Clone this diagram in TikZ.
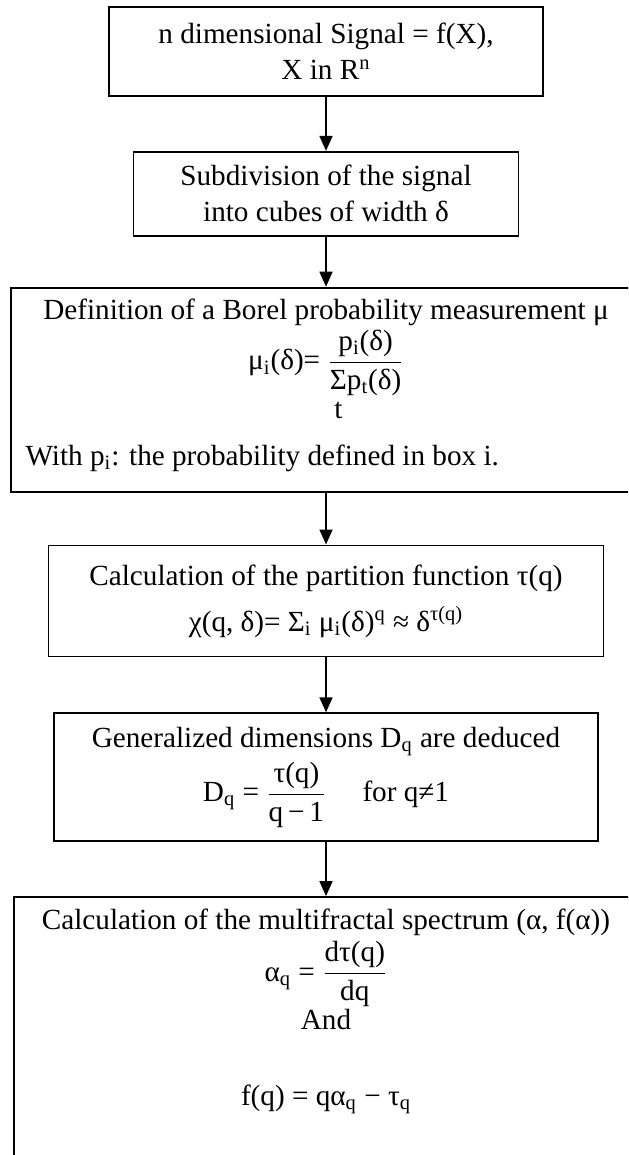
\documentclass[tikz,border=0pt]{standalone}
\usepackage{fontspec}
\setmainfont{Liberation Serif}
\usepackage{tikz}
\usetikzlibrary{arrows.meta, positioning, calc}
\tikzstyle{stepbox} = [rectangle, draw=black, line width=0.9pt, align=center, inner sep=2pt]
\tikzstyle{txt} = [inner sep=0pt, align=center]
\tikzstyle{arrow} = [line width=0.8pt, -{Triangle[length=7.5pt, width=6.5pt]}]
\newcommand{\lo}[1]{\textsubscript{#1}}
\newcommand{\hi}[1]{\textsuperscript{#1}}
\newcommand{\ratio}[2]{$\displaystyle\frac{\mbox{#1}}{\mbox{#2}}$}
\begin{document}
\begin{tikzpicture}[x=0.5pt, y=0.5pt, font=\fontsize{14.6}{18}\selectfont]
    \useasboundingbox (0,0) rectangle (628,-1155);
    \clip (0,0) rectangle (628,-1155);
    % Nodes
    \node (sig) [stepbox, minimum width=217pt, minimum height=44.5pt] at (326,-51.5) {n dimensional Signal = f(X),\\ X in R\hi{n}};
    \node (cubes) [stepbox, below=27pt of sig, minimum width=192.5pt, minimum height=42pt] {Subdivision of the signal\\ into cubes of width δ};
    \node (borel) [stepbox, below=25pt of cubes, minimum width=315pt, minimum height=102pt] {};
    \node (boreltxt) [txt, below=6pt of borel.north] {Definition of a Borel probability measurement μ\\[1pt]
        μ\lo{i}(δ)= \ratio{p\lo{i}(δ)}{$\mathop{\mbox{Σ}}\limits_{\mbox{\rule{0pt}{13pt}t}}$p\lo{t}(δ)}};
    \node (borelnote) [inner sep=0pt, anchor=base west] at ([xshift=7.5pt, yshift=-38pt]borel.west) {With p\lo{i}: the probability defined in box i.};
    \node (part) [stepbox, below=26pt of borel, minimum width=277.5pt, minimum height=55.5pt] {Calculation of the partition function τ(q)\\[5pt]
        χ(q, δ)= Σ\lo{i} μ\lo{i}(δ)\hi{q} ≈ δ\hi{τ(q)}};
    \node (dims) [stepbox, below=27.5pt of part, minimum width=272pt, minimum height=64pt] {Generalized dimensions D\lo{q} are deduced\\[2pt]
        D\lo{q} = \ratio{τ(q)}{q\,−\,1}\hspace{18pt}for q≠1};
    \node (spec) [stepbox, below=27pt of dims, minimum width=312pt, minimum height=150pt] {};
    \node (spectxt) [txt, below=6pt of spec.north] {Calculation of the multifractal spectrum (α, f(α))\\[2pt]
        α\lo{q} = \ratio{dτ(q)}{dq}\\
        And\\[20pt]
        f(q) = qα\lo{q} − τ\lo{q}};

    % Arrows
    \draw [arrow] (sig.south) -- (cubes.north);
    \draw [arrow] (cubes.south) -- (borel.north);
    \draw [arrow] (borel.south) -- (part.north);
    \draw [arrow] (part.south) -- (dims.north);
    \draw [arrow] (dims.south) -- (spec.north);
\end{tikzpicture}
\end{document}
